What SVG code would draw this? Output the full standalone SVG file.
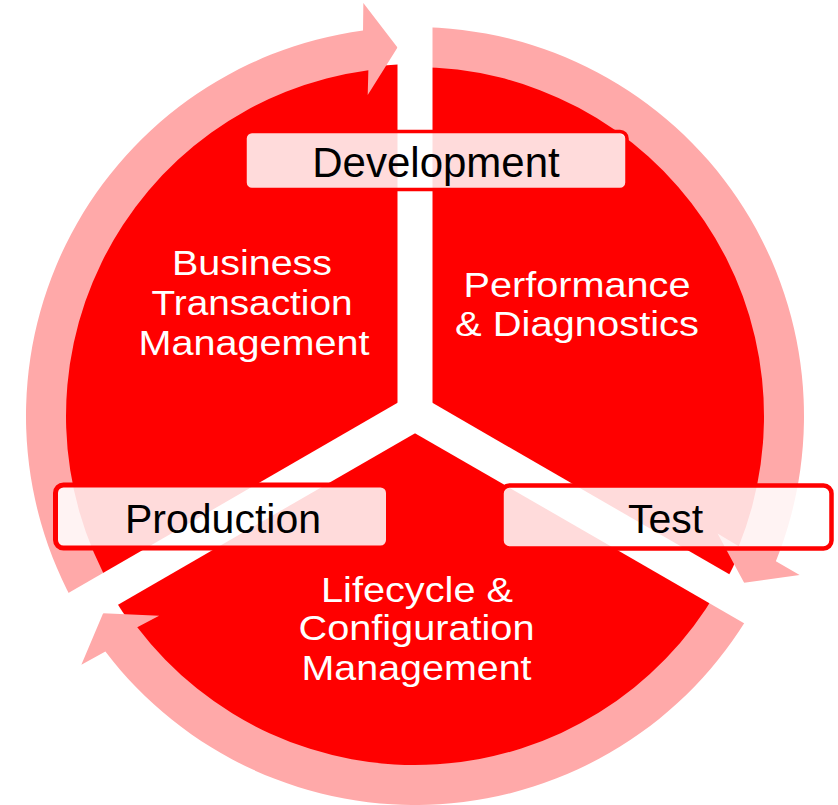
<svg xmlns="http://www.w3.org/2000/svg" width="838" height="805" viewBox="0 0 838 805">
  <style>
    .ring { fill: #FFA9A9; }
    .band { stroke: #FFFFFF; stroke-width: 35; stroke-linecap: butt; fill: none; }
    .box { fill: #FFFFFF; fill-opacity: 0.86; stroke: #FF0000; stroke-linejoin: round; }
    .lbl { font-family: "Liberation Sans", Arial, sans-serif; fill: #000000; text-anchor: middle; }
    .sec { font-family: "Liberation Sans", Arial, sans-serif; fill: #FFFFFF; font-size: 35px; text-anchor: middle; }
  </style>

  <g id="disk">
    <circle cx="415" cy="416" r="352" fill="#FF0000"/>
  </g>

  <g id="connectors">
    <path class="ring" d="M78.11,610.5 A389,389 0 0 1 363.02,30.49 L363.35,2.99 L397.49,47.42 L367.71,94.88 L368.36,70.13 A349,349 0 0 0 112.76,590.5 Z"/>
    <path class="ring" d="M415,27 A389,389 0 0 1 775.87,561.24 L799.63,575.09 L744.13,582.83 L717.57,533.49 L738.76,546.31 A349,349 0 0 0 415,67 Z"/>
    <path class="ring" d="M751.89,610.5 A389,389 0 0 1 105.41,651.55 L81.35,664.87 L103.13,613.23 L159.11,615.70 L137.25,627.33 A349,349 0 0 0 717.24,590.5 Z"/>
  </g>

  <g id="dividers">
    <line class="band" x1="415" y1="413" x2="415" y2="-20"/>
    <line class="band" x1="415" y1="413" x2="1021" y2="763"/>
    <line class="band" x1="415" y1="413" x2="-191" y2="763"/>
  </g>

  <g id="node-business-transaction">
    <text class="sec" x="252" y="275" textLength="160" lengthAdjust="spacingAndGlyphs">Business</text>
    <text class="sec" x="252" y="315" textLength="201" lengthAdjust="spacingAndGlyphs">Transaction</text>
    <text class="sec" x="254" y="355" textLength="231" lengthAdjust="spacingAndGlyphs">Management</text>
  </g>

  <g id="node-performance">
    <text class="sec" x="577" y="297" textLength="227" lengthAdjust="spacingAndGlyphs">Performance</text>
    <text class="sec" x="577" y="336" textLength="244" lengthAdjust="spacingAndGlyphs">&amp; Diagnostics</text>
  </g>

  <g id="node-lifecycle">
    <text class="sec" x="417" y="602" textLength="192" lengthAdjust="spacingAndGlyphs">Lifecycle &amp;</text>
    <text class="sec" x="416.5" y="640" textLength="236" lengthAdjust="spacingAndGlyphs">Configuration</text>
    <text class="sec" x="416.5" y="680" textLength="230" lengthAdjust="spacingAndGlyphs">Management</text>
  </g>

  <g id="node-development">
    <rect class="box" x="245" y="131.5" width="382" height="58" rx="7" stroke-width="3.5"/>
    <text class="lbl" x="436" y="177" font-size="42">Development</text>
  </g>

  <g id="node-production">
    <rect class="box" x="55.5" y="485" width="333" height="63" rx="8" stroke-width="5"/>
    <text class="lbl" x="223" y="533" font-size="41">Production</text>
  </g>

  <g id="node-test">
    <rect class="box" x="501.5" y="485.5" width="330" height="63" rx="8" stroke-width="4.5"/>
    <text class="lbl" x="665.5" y="533" font-size="41">Test</text>
  </g>
</svg>
